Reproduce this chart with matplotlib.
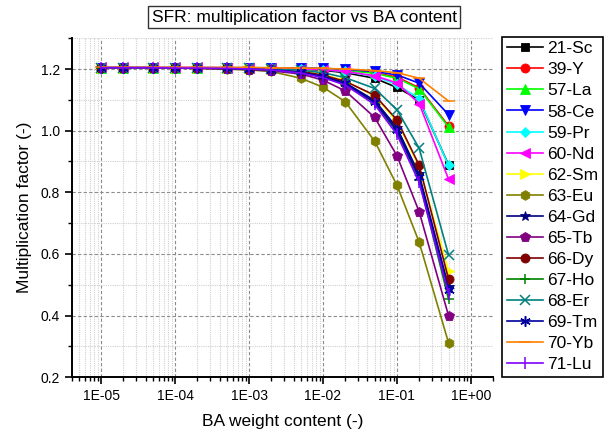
import numpy as np
import matplotlib
matplotlib.use("Agg")
import matplotlib.pyplot as plt
from matplotlib.ticker import LogLocator, FuncFormatter, MultipleLocator, NullFormatter

plt.rcParams['font.family'] = ['Liberation Sans', 'DejaVu Sans']

# BA weight content (x) and multiplication factor for each element
ba_content = [1e-5, 2e-5, 5e-5, 1e-4, 2e-4, 5e-4, 1e-3, 2e-3, 5e-3, 1e-2, 2e-2, 5e-2, 1e-1, 2e-1, 5e-1]

sc = [1.204, 1.204, 1.204, 1.204, 1.203, 1.203, 1.203, 1.202, 1.200, 1.196, 1.188, 1.170, 1.140, 1.100, 0.889]
y_ = [1.204, 1.204, 1.204, 1.204, 1.204, 1.204, 1.204, 1.203, 1.202, 1.200, 1.196, 1.188, 1.174, 1.139, 1.015]
la = [1.204, 1.204, 1.204, 1.204, 1.204, 1.204, 1.204, 1.203, 1.202, 1.200, 1.196, 1.186, 1.170, 1.136, 1.011]
ce = [1.204, 1.204, 1.204, 1.204, 1.204, 1.204, 1.204, 1.204, 1.203, 1.202, 1.199, 1.192, 1.181, 1.154, 1.052]
pr = [1.204, 1.204, 1.204, 1.204, 1.204, 1.204, 1.203, 1.203, 1.201, 1.198, 1.192, 1.176, 1.150, 1.104, 0.887]
nd = [1.205, 1.205, 1.205, 1.205, 1.205, 1.204, 1.204, 1.203, 1.201, 1.198, 1.192, 1.178, 1.155, 1.088, 0.842]
sm = [1.204, 1.204, 1.204, 1.204, 1.203, 1.203, 1.202, 1.200, 1.193, 1.182, 1.162, 1.112, 1.030, 0.882, 0.545]
eu = [1.203, 1.203, 1.203, 1.203, 1.202, 1.200, 1.197, 1.192, 1.170, 1.141, 1.094, 0.966, 0.823, 0.638, 0.311]
gd = [1.204, 1.204, 1.204, 1.203, 1.203, 1.202, 1.201, 1.198, 1.190, 1.177, 1.155, 1.098, 1.010, 0.858, 0.492]
tb = [1.204, 1.204, 1.204, 1.203, 1.202, 1.200, 1.198, 1.194, 1.184, 1.164, 1.129, 1.043, 0.919, 0.737, 0.399]
dy = [1.204, 1.204, 1.204, 1.204, 1.203, 1.202, 1.201, 1.199, 1.192, 1.180, 1.160, 1.115, 1.035, 0.888, 0.518]
ho = [1.204, 1.204, 1.204, 1.203, 1.203, 1.202, 1.200, 1.197, 1.188, 1.174, 1.150, 1.090, 0.995, 0.840, 0.452]
er = [1.204, 1.204, 1.204, 1.204, 1.203, 1.203, 1.202, 1.200, 1.196, 1.188, 1.172, 1.137, 1.068, 0.943, 0.596]
tm = [1.204, 1.204, 1.204, 1.203, 1.203, 1.202, 1.200, 1.198, 1.189, 1.176, 1.153, 1.093, 1.002, 0.848, 0.482]
yb = [1.205, 1.205, 1.205, 1.205, 1.205, 1.205, 1.205, 1.204, 1.203, 1.202, 1.200, 1.195, 1.188, 1.170, 1.096]
lu = [1.204, 1.204, 1.204, 1.203, 1.203, 1.202, 1.200, 1.197, 1.187, 1.172, 1.148, 1.085, 0.988, 0.832, 0.470]

labels = ['21-Sc', '39-Y', '57-La', '58-Ce', '59-Pr', '60-Nd', '62-Sm', '63-Eu',
          '64-Gd', '65-Tb', '66-Dy', '67-Ho', '68-Er', '69-Tm', '70-Yb', '71-Lu']
series = [sc, y_, la, ce, pr, nd, sm, eu, gd, tb, dy, ho, er, tm, yb, lu]

# Origin-like colour / symbol cycle
colors = ['#000000', '#FF0000', '#00FF00', '#0000FF', '#00FFFF', '#FF00FF', '#FFFF00', '#808000',
          '#000080', '#800080', '#800000', '#008000', '#008080', '#0000A0', '#FF8000', '#8000FF']
markers = ['s', 'o', '^', 'v', 'D', '<', '>', 'h', '*', 'p', 'o', '+', 'x', (6, 2, 0), '_', '|']
msizes = [6, 6.5, 7, 7, 5.5, 7, 7, 7, 7.5, 7.5, 6.5, 7, 7, 7.5, 8, 8]

fig = plt.figure(figsize=(6.08, 4.34), dpi=100)
ax = fig.add_axes([0.118, 0.131, 0.693, 0.781])

for vals, lab, c, m, ms in zip(series, labels, colors, markers, msizes):
    ax.plot(ba_content, vals, color=c, marker=m, markersize=ms, lw=1.2,
            markeredgewidth=1.1 if m in ('+', 'x', '_', '|', (6, 2, 0)) else 0.6,
            markeredgecolor=c, label=lab)

ax.set_xscale('log')
ax.set_xlim(4e-6, 2.0)
ax.set_ylim(0.2, 1.3)

ax.xaxis.set_major_locator(LogLocator(base=10, numticks=10))
ax.xaxis.set_minor_locator(LogLocator(base=10, subs=np.arange(2, 10), numticks=20))
ax.xaxis.set_major_formatter(FuncFormatter(lambda v, p: "1E{:+03d}".format(int(round(np.log10(v))))))
ax.xaxis.set_minor_formatter(NullFormatter())
ax.yaxis.set_major_locator(MultipleLocator(0.2))
ax.yaxis.set_minor_locator(MultipleLocator(0.1))
ax.yaxis.set_major_formatter(FuncFormatter(lambda v, p: "%.1f" % v))

ax.grid(which='major', color='#8c8c8c', linestyle=(0, (3, 2)), lw=0.8)
ax.grid(which='minor', color='#d0d0d0', linestyle=(0, (1, 1)), lw=0.8)
ax.set_axisbelow(True)

for s in ['top', 'right']:
    ax.spines[s].set_visible(False)
for s in ['left', 'bottom']:
    ax.spines[s].set_linewidth(1.4)
ax.tick_params(which='major', direction='out', length=5, width=1.2, labelsize=10)
ax.tick_params(which='minor', direction='out', length=3, width=1.0)

ax.set_xlabel('BA weight content (-)', fontsize=12.5, labelpad=8)
ax.set_ylabel('Multiplication factor (-)', fontsize=12.5, labelpad=6)

fig.text(0.5, 0.96, 'SFR: multiplication factor vs BA content', fontsize=12.5,
         ha='center', va='center',
         bbox=dict(boxstyle='square,pad=0.2', fc='white', ec='#333333', lw=1.0))

fig.legend(loc='upper left', bbox_to_anchor=(0.826, 0.915), borderaxespad=0,
           fontsize=12.5, labelspacing=0.34, handlelength=2.1, handletextpad=0.25,
           borderpad=0.25, fancybox=False, framealpha=1, edgecolor='black')
fig.legends[0].get_frame().set_linewidth(1.2)

fig.savefig('out.png', dpi=100)
